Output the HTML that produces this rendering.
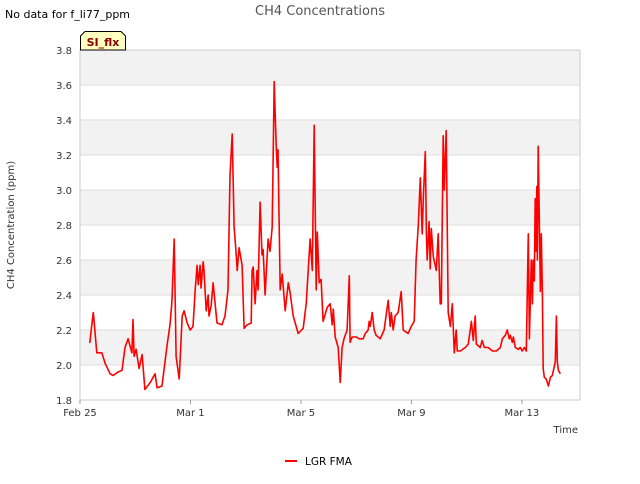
<!DOCTYPE html>
<html><head><meta charset="utf-8"><style>
body{margin:0;background:#fff;font-family:"DejaVu Sans","Liberation Sans",sans-serif;}
svg text{font-family:"DejaVu Sans","Liberation Sans",sans-serif;}
</style></head><body>
<svg id="chart" width="640" height="480" xmlns="http://www.w3.org/2000/svg">
<rect width="640" height="480" fill="#fff"/>
<text x="5" y="18" font-size="11" fill="#000">No data for f_li77_ppm</text>
<text x="320" y="15" font-size="13" fill="#555" text-anchor="middle">CH4 Concentrations</text>
<g id="plot"></g>
<g>
<path d="M80.5,50 L80.5,36 L85,31.5 L121,31.5 L125.5,36 L125.5,50 Z" fill="#ffffc0" stroke="#000" stroke-width="1"/>
<text x="103" y="46" font-size="11" font-weight="bold" fill="#8b0000" text-anchor="middle">SI_flx</text>
</g>
<text x="14" y="225" font-size="10" fill="#333" text-anchor="middle" transform="rotate(-90 14 225)">CH4 Concentration (ppm)</text>
<text x="578" y="433" font-size="10" fill="#333" text-anchor="end">Time</text>
<g>
<line x1="285" y1="461" x2="297" y2="461" stroke="#f00" stroke-width="2"/>
<text x="305" y="465" font-size="10.5" fill="#000">LGR FMA</text>
</g>
</svg>
<script>
const days=[0.33,0.36,0.42,0.48,0.61,0.79,0.91,1.09,1.20,1.38,1.52,1.63,1.74,1.88,1.92,1.96,2.03,2.14,2.25,2.35,2.54,2.72,2.79,2.97,3.15,3.26,3.33,3.41,3.48,3.59,3.70,3.77,3.88,3.99,4.09,4.17,4.24,4.28,4.35,4.38,4.46,4.49,4.57,4.64,4.67,4.75,4.82,4.96,5.14,5.25,5.36,5.43,5.51,5.58,5.65,5.69,5.76,5.87,5.94,6.05,6.20,6.23,6.27,6.34,6.41,6.45,6.52,6.59,6.63,6.70,6.81,6.88,6.96,7.03,7.10,7.14,7.17,7.25,7.32,7.43,7.54,7.61,7.72,7.90,8.08,8.19,8.33,8.41,8.48,8.55,8.59,8.66,8.73,8.80,8.95,
9.06,9.13,9.17,9.24,9.35,9.42,9.49,9.56,9.67,9.75,9.78,9.85,10.0,10.11,10.25,10.33,10.43,10.47,10.51,10.58,10.65,10.72,10.87,11.01,11.16,11.23,11.27,11.34,11.41,11.52,11.63,11.70,11.88,11.99,12.10,12.17,12.25,12.32,12.39,12.43,12.50,12.54,12.57,12.64,12.68,12.72,12.79,12.90,12.97,13.04,13.08,13.15,13.19,13.26,13.33,13.41,13.48,13.55,13.62,13.66,13.77,13.95,14.06,14.17,14.24,14.31,14.35,14.49,14.56,14.64,14.78,14.93,15.07,15.22,15.29,15.40,15.47,15.54,15.58,15.65,15.69,15.76,15.87,15.94,16.01,16.09,16.16,16.23,16.27,16.34,16.38,16.41,16.45,16.48,16.52,16.54,16.56,16.59,16.67,16.70,16.74,16.77,16.81,16.88,16.96,17.03,17.10,17.17,17.21,17.25,17.28,17.32,17.39];
const ch4=[2.13,2.13,2.22,2.30,2.07,2.07,2.01,1.95,1.94,1.96,1.97,2.10,2.15,2.07,2.26,2.05,2.09,1.98,2.06,1.86,1.90,1.95,1.87,1.88,2.11,2.23,2.37,2.72,2.05,1.92,2.28,2.31,2.24,2.20,2.22,2.43,2.57,2.46,2.57,2.44,2.59,2.54,2.31,2.40,2.28,2.34,2.47,2.24,2.23,2.28,2.43,3.08,3.32,2.79,2.64,2.54,2.67,2.57,2.21,2.23,2.24,2.54,2.56,2.35,2.54,2.43,2.93,2.63,2.66,2.40,2.72,2.65,2.79,3.62,3.27,3.13,3.23,2.43,2.52,2.31,2.47,2.41,2.28,2.18,2.21,2.35,2.72,2.54,3.37,2.43,2.76,2.47,2.49,2.25,2.33,
2.35,2.23,2.32,2.16,2.10,1.90,2.10,2.15,2.20,2.51,2.13,2.16,2.16,2.15,2.15,2.18,2.20,2.25,2.22,2.30,2.20,2.17,2.15,2.20,2.37,2.22,2.30,2.20,2.28,2.30,2.42,2.20,2.18,2.22,2.25,2.60,2.80,3.07,2.75,2.95,3.22,2.75,2.60,2.82,2.55,2.78,2.62,2.54,2.75,2.35,2.35,3.31,3.00,3.34,2.30,2.22,2.35,2.07,2.20,2.08,2.08,2.10,2.12,2.25,2.14,2.28,2.12,2.10,2.14,2.10,2.10,2.08,2.08,2.10,2.15,2.17,2.20,2.15,2.17,2.13,2.16,2.10,2.09,2.10,2.08,2.10,2.08,2.75,2.15,2.60,2.35,2.60,2.48,2.95,2.65,3.02,2.60,3.25,2.42,2.75,2.40,1.98,1.93,1.92,1.88,1.93,1.94,1.99,2.02,2.28,2.02,1.97,1.95];
const yTicks=[1.8,2.0,2.2,2.4,2.6,2.8,3.0,3.2,3.4,3.6,3.8];
const xTickDays=[0,4,8,12,16];
const xTickLabels=["Feb 25","Mar 1","Mar 5","Mar 9","Mar 13"];
const X0=80,X1=580,Y0=400,Y1=50,DMAX=(X1-X0)/27.62;
const xs=d=>X0+d/DMAX*(X1-X0);
const ys=v=>Y0-(v-1.8)/2.0*(Y0-Y1);
const NS="http://www.w3.org/2000/svg";
const g=document.getElementById('plot');
function mk(t,a){const e=document.createElementNS(NS,t);for(const k in a)e.setAttribute(k,a[k]);g.appendChild(e);return e;}
mk('rect',{x:X0,y:Y1,width:X1-X0,height:Y0-Y1,fill:'#fff'});
for(let i=0;i<yTicks.length-1;i++){
 if((yTicks.length-2-i)%2===0){const b=mk('rect',{x:X0,y:ys(yTicks[i+1]),width:X1-X0,height:ys(yTicks[i])-ys(yTicks[i+1]),fill:'#f2f2f2'});
 
 }
}
yTicks.forEach(v=>{
 const l=mk('line',{x1:X0,x2:X1,y1:ys(v),y2:ys(v),stroke:'#ddd','stroke-width':1});
 
 
 const t=mk('text',{x:X0-8,y:ys(v)+4,'font-size':10,fill:'#333','text-anchor':'end'});t.textContent=v.toFixed(1);
 
 
});
mk('rect',{x:X0,y:Y1,width:X1-X0,height:Y0-Y1,fill:'none',stroke:'#ccc','stroke-width':1});
xTickDays.forEach((d,i)=>{
 mk('line',{x1:xs(d),x2:xs(d),y1:Y0,y2:Y0+4,stroke:'#999'});
 const t=mk('text',{x:xs(d),y:Y0+16,'font-size':10,fill:'#333','text-anchor':'middle'});t.textContent=xTickLabels[i];
 
 
});
const p=mk('polyline',{points:days.map((d,i)=>xs(d).toFixed(1)+','+ys(ch4[i]).toFixed(1)).join(' '),fill:'none',stroke:'#f00','stroke-width':1.6,'stroke-linejoin':'round'});


</script>
</body></html>
